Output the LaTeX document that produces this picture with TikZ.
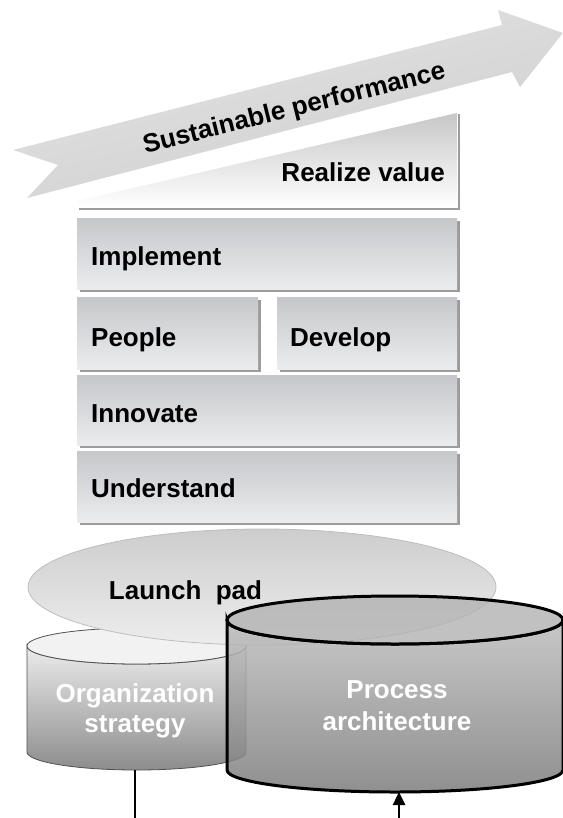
\documentclass[tikz,border=0pt]{standalone}
\usepackage{fontspec}
\setmainfont{Liberation Sans}
\usetikzlibrary{arrows.meta,shadows}
\definecolor{boxtop}{HTML}{C6C7CA}
\definecolor{boxbot}{HTML}{EBECEE}
\definecolor{shad}{HTML}{9C9C9C}
\definecolor{arrtop}{HTML}{E4E4E4}
\definecolor{arrbot}{HTML}{CECECE}
\definecolor{padtop}{HTML}{CDCDCD}
\definecolor{padbot}{HTML}{EDEDED}
\definecolor{padline}{HTML}{BDBDBD}
\definecolor{orgtop}{HTML}{ECECEC}
\definecolor{orgbot}{HTML}{8C8C8C}
\definecolor{orgface}{HTML}{F2F2F2}
\definecolor{orgline}{HTML}{505050}
\definecolor{proctop}{HTML}{BEBEBE}
\definecolor{procbot}{HTML}{7C7C7C}
\definecolor{procface}{HTML}{B2B2B2}
\begin{document}
\begin{tikzpicture}[x=1pt,y=-1pt,
  lbl/.style={font=\fontsize{26}{30}\selectfont\bfseries, inner sep=0pt},
  boxnode/.style={rectangle, top color=boxtop, bottom color=boxbot,
    general shadow={fill=shad, shadow xshift=2.5pt, shadow yshift=-2.5pt},
    anchor=north west, inner sep=0pt, draw=none}]
\useasboundingbox (0,0) rectangle (562,818);

% Sustainable performance arrow
\shade[top color=arrtop, bottom color=arrbot, shading angle=14]
  (13,150) -- (502,25) -- (498,10) -- (563,33) -- (520,87) -- (512,72) -- (27,198) -- (58,165) -- cycle;
\node[lbl, rotate=14, anchor=base] (sust) at (296,116) {Sustainable performance};

% Realize value
\draw[shad, line width=2.5] (459,114) -- (459,209) -- (79,209);
\shade[top color=black!22, bottom color=white] (77,201) -- (457,113) -- (457,207) -- (77,207) -- cycle;
\node[lbl, anchor=base east] (realize) at (445,182) {Realize value};

% Stacked boxes
\node[boxnode, minimum width=380pt, minimum height=71pt] (implement) at (77,218) {};
\node[boxnode, minimum width=181pt, minimum height=72pt] (people) at (77,297) {};
\node[boxnode, minimum width=180pt, minimum height=72pt] (develop) at (277,297) {};
\node[boxnode, minimum width=380pt, minimum height=70pt] (innovate) at (77,375) {};
\node[boxnode, minimum width=380pt, minimum height=71pt] (understand) at (77,451) {};
\node[lbl, anchor=base west] (implementt) at (91,265) {Implement};
\node[lbl, anchor=base west] (peoplet) at (91,346) {People};
\node[lbl, anchor=base west] (developt) at (290,346) {Develop};
\node[lbl, anchor=base west] (innovatet) at (91,422) {Innovate};
\node[lbl, anchor=base west] (understandt) at (91,497) {Understand};

% Organization strategy cylinder
\shadedraw[top color=orgtop, bottom color=orgbot, draw=orgline, line width=0.8]
  (27,646) -- (27,752) arc[start angle=180, end angle=0, x radius=109.5, y radius=18]
  -- (246,646) arc[start angle=0, end angle=180, x radius=109.5, y radius=18] -- cycle;
\filldraw[fill=orgface, draw=orgline, line width=0.8] (136.5,646) ellipse[x radius=109.5, y radius=18];

% Launch pad
\shadedraw[top color=padtop, bottom color=padbot, draw=padline, line width=0.8]
  (262,587) ellipse[x radius=234, y radius=58];
\node[lbl, anchor=base] (launch) at (185.5,599) {Launch\ \ pad};

% Process architecture cylinder
\shadedraw[top color=proctop, bottom color=procbot, fill opacity=0.85, draw=black, line width=3]
  (227,620) -- (227,770) arc[start angle=180, end angle=0, x radius=168, y radius=22]
  -- (563,620) arc[start angle=0, end angle=180, x radius=168, y radius=24] -- cycle;
\filldraw[fill=procface, fill opacity=0.8, draw=black, line width=3] (395,620) ellipse[x radius=168, y radius=24];

% Cylinder texts
\node[lbl, white, anchor=base] (orgt1) at (135,702) {Organization};
\node[lbl, white, anchor=base] (orgt2) at (135,732) {strategy};
\node[lbl, white, anchor=base] (proct1) at (397,698) {Process};
\node[lbl, white, anchor=base] (proct2) at (397,730) {architecture};

% Connectors
\coordinate (orgbase) at (135,770);
\coordinate (orgend) at (135,818);
\coordinate (procbase) at (399,792);
\coordinate (procin) at (399,818);
\draw[line width=2] (orgbase) -- (orgend);
\draw[line width=2.5, -{Triangle[length=13pt,width=12pt]}] (procin) -- (procbase);
\end{tikzpicture}
\end{document}
